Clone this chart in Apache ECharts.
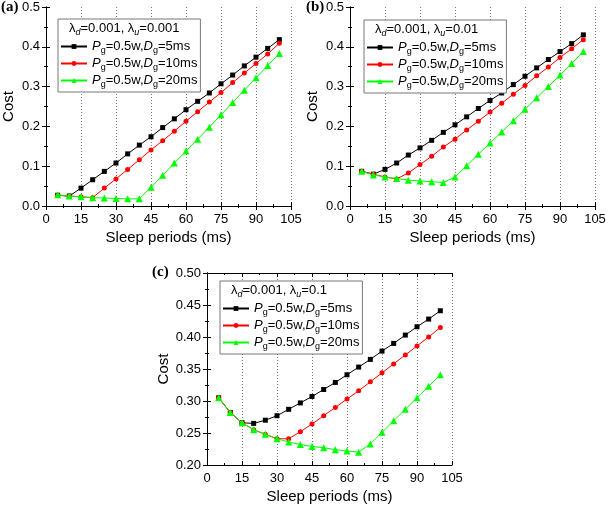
<!DOCTYPE html>
<html>
<head>
<meta charset="utf-8">
<script src="https://cdn.jsdelivr.net/npm/echarts@6/dist/echarts.min.js"></script>
<style>
  html, body { margin: 0; padding: 0; background: #fff; }
  #main { width: 610px; height: 505px; }
</style>
</head>
<body>
<div id="main"></div>
<script>
// sleep periods (ms)
const sleepPeriods = [5, 10, 15, 20, 25, 30, 35, 40, 45, 50, 55, 60, 65, 70, 75, 80, 85, 90, 95, 100];

// (a) lambda_u = 0.001
const costA5  = [0.027, 0.025, 0.045, 0.066, 0.087, 0.108, 0.131, 0.153, 0.174, 0.197, 0.219, 0.242, 0.263, 0.284, 0.307, 0.329, 0.352, 0.374, 0.396, 0.418];
const costA10 = [0.027, 0.025, 0.023, 0.021, 0.045, 0.068, 0.092, 0.116, 0.141, 0.164, 0.188, 0.213, 0.237, 0.261, 0.285, 0.310, 0.334, 0.358, 0.382, 0.409];
const costA20 = [0.028, 0.025, 0.023, 0.021, 0.020, 0.019, 0.018, 0.018, 0.047, 0.077, 0.108, 0.138, 0.168, 0.198, 0.229, 0.260, 0.291, 0.322, 0.353, 0.383];

// (b) lambda_u = 0.01
const costB5  = [0.087, 0.080, 0.092, 0.108, 0.128, 0.146, 0.165, 0.185, 0.204, 0.224, 0.245, 0.265, 0.284, 0.305, 0.326, 0.347, 0.368, 0.388, 0.408, 0.430];
const costB10 = [0.087, 0.080, 0.073, 0.068, 0.083, 0.104, 0.125, 0.148, 0.168, 0.191, 0.213, 0.236, 0.258, 0.281, 0.303, 0.327, 0.349, 0.373, 0.395, 0.418];
const costB20 = [0.087, 0.078, 0.073, 0.069, 0.065, 0.063, 0.061, 0.059, 0.073, 0.101, 0.130, 0.158, 0.186, 0.214, 0.243, 0.272, 0.300, 0.329, 0.358, 0.388];

// (c) lambda_u = 0.1
const costC5  = [0.305, 0.282, 0.266, 0.265, 0.270, 0.277, 0.287, 0.297, 0.307, 0.318, 0.329, 0.341, 0.353, 0.365, 0.378, 0.390, 0.403, 0.416, 0.428, 0.441];
const costC10 = [0.305, 0.282, 0.266, 0.255, 0.248, 0.241, 0.241, 0.252, 0.264, 0.277, 0.290, 0.303, 0.316, 0.330, 0.344, 0.358, 0.372, 0.386, 0.400, 0.415];
const costC20 = [0.305, 0.282, 0.266, 0.255, 0.248, 0.241, 0.236, 0.232, 0.229, 0.227, 0.224, 0.222, 0.220, 0.233, 0.251, 0.269, 0.287, 0.305, 0.323, 0.341];

const seriesNames = ['Pg=0.5w,Dg=5ms', 'Pg=0.5w,Dg=10ms', 'Pg=0.5w,Dg=20ms'];
const dgValues = ['5', '10', '20'];
const panelLabels = ['(a)', '(b)', '(c)'];
const lambdaD = '0.001';
const lambdaU = ['0.001', '0.01', '0.1'];
const xTicks = { min: 0, max: 105, interval: 15 };
const yTicks = [
  { min: 0, max: 0.5, interval: 0.1, digits: 1 },
  { min: 0, max: 0.5, interval: 0.1, digits: 1 },
  { min: 0.2, max: 0.5, interval: 0.05, digits: 2 }
];

const panelData = [
  [costA5, costA10, costA20],
  [costB5, costB10, costB20],
  [costC5, costC10, costC20]
];

const FONT = 'Liberation Sans, Arial, sans-serif';
const colors = ['#000000', '#ff0000', '#00ff00'];
const symbols = ['rect', 'circle', 'triangle'];
const symbolSizes = [5, 5, 7];

const grids = [
  { left: 45, top: 7, width: 246, height: 199 },
  { left: 350, top: 7, width: 245, height: 199 },
  { left: 207, top: 273, width: 245, height: 197 }
];
const legendPos = [
  { left: 58, top: 19 },
  { left: 364, top: 20 },
  { left: 220, top: 281 }
];
const labelPos = [
  { left: 1, top: 0 },
  { left: 306, top: 0 },
  { left: 152, top: 265 }
];

const chart = echarts.init(document.getElementById('main'));

const xAxes = [], yAxes = [], series = [], legends = [], graphics = [];

grids.forEach(function (g, i) {
  // bottom axis
  xAxes.push({
    type: 'value', gridIndex: i, position: 'bottom',
    min: xTicks.min, max: xTicks.max, interval: xTicks.interval,
    name: 'Sleep periods (ms)', nameLocation: 'middle', nameGap: 24,
    nameTextStyle: { fontFamily: FONT, fontSize: 15, color: '#000' },
    axisLine: { lineStyle: { color: '#000', width: 1 } },
    axisTick: { inside: true, length: 4, lineStyle: { color: '#000' } },
    minorTick: { show: true, splitNumber: 2, length: 2, lineStyle: { color: '#000' } },
    axisLabel: { fontFamily: FONT, fontSize: 13, color: '#000', margin: 7 },
    splitLine: { show: true, lineStyle: { color: '#777', type: [1, 2], width: 1 } }
  });
  // top mirror
  xAxes.push({
    type: 'value', gridIndex: i, position: 'top',
    min: xTicks.min, max: xTicks.max, interval: xTicks.interval,
    axisLine: { lineStyle: { color: '#000', width: 1 } },
    axisTick: { inside: true, length: 4, lineStyle: { color: '#000' } },
    minorTick: { show: true, splitNumber: 2, length: 2, lineStyle: { color: '#000' } },
    axisLabel: { show: false },
    splitLine: { show: false }
  });
  const yt = yTicks[i];
  yAxes.push({
    type: 'value', gridIndex: i, position: 'left',
    min: yt.min, max: yt.max, interval: yt.interval,
    name: 'Cost', nameLocation: 'middle', nameGap: 30,
    nameTextStyle: { fontFamily: FONT, fontSize: 15, color: '#000' },
    axisLine: { show: true, lineStyle: { color: '#000', width: 1 } },
    axisTick: { show: true, inside: true, length: 4, lineStyle: { color: '#000' } },
    minorTick: { show: true, splitNumber: 2, length: 2, lineStyle: { color: '#000' } },
    axisLabel: {
      fontFamily: FONT, fontSize: 13, color: '#000', margin: 6,
      formatter: (function (d) { return function (v) { return v.toFixed(d); }; })(yt.digits)
    },
    splitLine: { show: false }
  });
  yAxes.push({
    type: 'value', gridIndex: i, position: 'right',
    min: yt.min, max: yt.max, interval: yt.interval,
    axisLine: { show: true, lineStyle: { color: '#000', width: 1 } },
    axisTick: { show: true, inside: true, length: 4, lineStyle: { color: '#000' } },
    minorTick: { show: true, splitNumber: 2, length: 2, lineStyle: { color: '#000' } },
    axisLabel: { show: false },
    splitLine: { show: false }
  });

  panelData[i].forEach(function (ys, k) {
    series.push({
      name: seriesNames[k],
      type: 'line',
      xAxisIndex: i * 2,
      yAxisIndex: i * 2,
      data: sleepPeriods.map(function (x, j) { return [x, ys[j]]; }),
      symbol: symbols[k],
      symbolSize: symbolSizes[k],
      showAllSymbol: true,
      itemStyle: { color: colors[k] },
      lineStyle: { color: colors[k], width: 1 },
      animation: false,
      z: 2 + k
    });
  });

  legends.push({
    orient: 'vertical',
    left: legendPos[i].left, top: legendPos[i].top,
    data: seriesNames,
    padding: [21, 3, 3, 2],
    itemGap: 2,
    itemWidth: 26, itemHeight: 6,
    backgroundColor: '#fff',
    borderColor: '#777', borderWidth: 1,
    selectedMode: false,
    formatter: function (name) {
      const d = dgValues[seriesNames.indexOf(name)];
      return '{i|P}{s|g}{n|=0.5w,}{i|D}{s|g}{n|=' + d + 'ms}';
    },
    textStyle: {
      fontFamily: FONT, fontSize: 13, color: '#000',
      rich: {
        i: { fontFamily: FONT, fontSize: 13, fontStyle: 'italic', lineHeight: 17 },
        n: { fontFamily: FONT, fontSize: 13, lineHeight: 17 },
        s: { fontFamily: FONT, fontSize: 9, lineHeight: 17, verticalAlign: 'bottom' }
      }
    }
  });

  graphics.push({
    type: 'text', z: 100,
    left: legendPos[i].left + 11, top: legendPos[i].top + 3,
    style: {
      text: '{l|\u03bb}{s|d}{n|=' + lambdaD + ', }{l|\u03bb}{s|u}{n|=' + lambdaU[i] + '}',
      fill: '#000',
      rich: {
        l: { fontFamily: FONT, fontSize: 13, lineHeight: 17 },
        n: { fontFamily: FONT, fontSize: 13, lineHeight: 17 },
        s: { fontFamily: FONT, fontSize: 9, fontStyle: 'italic', lineHeight: 17, verticalAlign: 'bottom' }
      }
    }
  });
  graphics.push({
    type: 'text', z: 100,
    left: labelPos[i].left, top: labelPos[i].top,
    style: {
      text: panelLabels[i], fill: '#000',
      font: 'bold 15px "Liberation Serif", "Times New Roman", serif'
    }
  });
});

chart.setOption({
  backgroundColor: '#fff',
  animation: false,
  grid: grids.map(function (g) { return Object.assign({ containLabel: false }, g); }),
  xAxis: xAxes,
  yAxis: yAxes,
  legend: legends,
  graphic: graphics,
  series: series
});
</script>
</body>
</html>
